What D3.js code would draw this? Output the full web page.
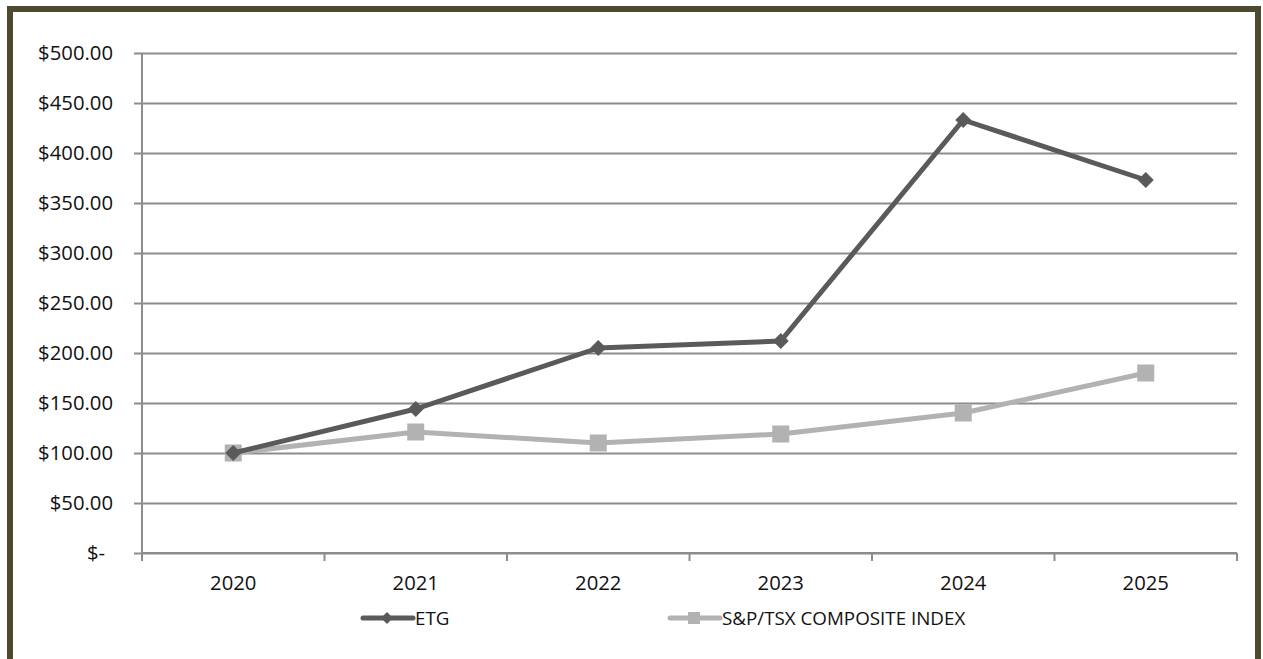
<!DOCTYPE html>
<html>
<head>
<meta charset="utf-8">
<script src="https://cdn.jsdelivr.net/npm/d3@7"></script>
<style>
  html, body { margin: 0; padding: 0; background: #fff; }
  svg { display: block; }
</style>
</head>
<body>
<svg id="chart" width="1263" height="659"></svg>
<script>
// Cumulative value of a $100 investment
const years = ["2020", "2021", "2022", "2023", "2024", "2025"];
const etgValues = [100, 144, 205, 212, 433, 373];
const tsxValues = [100, 121, 110, 119, 140, 180];
const yTicks = [0, 50, 100, 150, 200, 250, 300, 350, 400, 450, 500];
const seriesNames = ["ETG", "S&P/TSX COMPOSITE INDEX"];

const svg = d3.select("#chart");
const W = 1263, H = 659;
const margin = { left: 142, right: 26, top: 53, bottom: 106 };

// Outer frame
svg.append("rect")
  .attr("x", 10).attr("y", 9)
  .attr("width", 1248).attr("height", 670)
  .attr("fill", "#fff")
  .attr("stroke", "#4e4a30").attr("stroke-width", 6);

const x = d3.scaleBand()
  .domain(years)
  .range([margin.left, W - margin.right])
  .paddingInner(0).paddingOuter(0);

const y = d3.scaleLinear()
  .domain([0, 500])
  .range([H - margin.bottom, margin.top]);

const font = "'Open Sans', 'Liberation Sans', sans-serif";
const gridColor = "#8c8c8c";

// Horizontal gridlines with short left ticks
const yAxis = d3.axisLeft(y)
  .tickValues(yTicks)
  .tickSize(-(W - margin.right - margin.left))
  .tickPadding(29)
  .tickFormat(d => d === 0 ? "$-" : "$" + d3.format(".2f")(d));

const gy = svg.append("g")
  .attr("transform", `translate(${margin.left},0)`)
  .call(yAxis);
gy.select(".domain").remove();
gy.selectAll(".tick line")
  .attr("x1", -8)
  .attr("stroke", gridColor).attr("stroke-width", 2);
gy.selectAll(".tick text")
  .attr("fill", "#111")
  .style("font-family", font).style("font-size", "20.3px");
gy.selectAll(".tick").filter(d => d === 0).select("text").attr("dx", -8);

// Vertical axis line
svg.append("line")
  .attr("x1", margin.left).attr("x2", margin.left)
  .attr("y1", margin.top).attr("y2", y(0) + 8)
  .attr("stroke", gridColor).attr("stroke-width", 2);

// Category axis: ticks between categories, labels centred
const gx = svg.append("g")
  .attr("transform", `translate(0,${y(0)})`);
gx.append("line")
  .attr("x1", margin.left).attr("x2", W - margin.right)
  .attr("stroke", gridColor).attr("stroke-width", 2);
const boundaries = years.map(d => x(d)).concat([x(years[years.length - 1]) + x.bandwidth()]);
gx.selectAll("line.bt").data(boundaries).join("line")
  .attr("class", "bt")
  .attr("x1", d => d).attr("x2", d => d)
  .attr("y1", 0).attr("y2", 8)
  .attr("stroke", gridColor).attr("stroke-width", 2);
gx.selectAll("text").data(years).join("text")
  .attr("x", d => x(d) + x.bandwidth() / 2)
  .attr("y", 37)
  .attr("text-anchor", "middle")
  .attr("fill", "#111")
  .style("font-family", font).style("font-size", "20.3px")
  .text(d => d);

const cx = d => x(d) + x.bandwidth() / 2;
const line = d3.line().x(d => cx(d.year)).y(d => y(d.value));

const series = [
  { name: seriesNames[0], values: etgValues, color: "#5a5a5a", marker: "diamond" },
  { name: seriesNames[1], values: tsxValues, color: "#b2b2b2", marker: "square" }
];

function drawMarker(g, type, color, px, py, size) {
  if (type === "square") {
    g.append("rect")
      .attr("x", px - size / 2).attr("y", py - size / 2)
      .attr("width", size).attr("height", size)
      .attr("fill", color);
  } else {
    const s = size / Math.SQRT2;
    g.append("rect")
      .attr("x", -s / 2).attr("y", -s / 2)
      .attr("width", s).attr("height", s)
      .attr("fill", color)
      .attr("transform", `translate(${px},${py}) rotate(45)`);
  }
}

// Draw the lighter series first so the company line sits on top
[series[1], series[0]].forEach(s => {
  const pts = years.map((yr, i) => ({ year: yr, value: s.values[i] }));
  const g = svg.append("g");
  g.append("path")
    .datum(pts)
    .attr("d", line)
    .attr("fill", "none")
    .attr("stroke", s.color)
    .attr("stroke-width", 5)
    .attr("stroke-linejoin", "round");
  pts.forEach(p => drawMarker(g, s.marker, s.color, cx(p.year), y(p.value),
    s.marker === "square" ? 17 : 16));
});

// Legend
const legendY = 618;
const legendItems = [
  { s: series[0], x0: 363 },
  { s: series[1], x0: 670 }
];
legendItems.forEach(({ s, x0 }) => {
  const g = svg.append("g");
  g.append("line")
    .attr("x1", x0).attr("x2", x0 + 50)
    .attr("y1", legendY).attr("y2", legendY)
    .attr("stroke", s.color).attr("stroke-width", 5)
    .attr("stroke-linecap", "round");
  drawMarker(g, s.marker, s.color, x0 + 24, legendY, 12);
  g.append("text")
    .attr("x", x0 + 52).attr("y", legendY)
    .attr("dy", "0.35em")
    .attr("fill", "#111")
    .style("font-family", font)
    .style("font-size", "18.8px")
    .text(s.name);
});
</script>
</body>
</html>
